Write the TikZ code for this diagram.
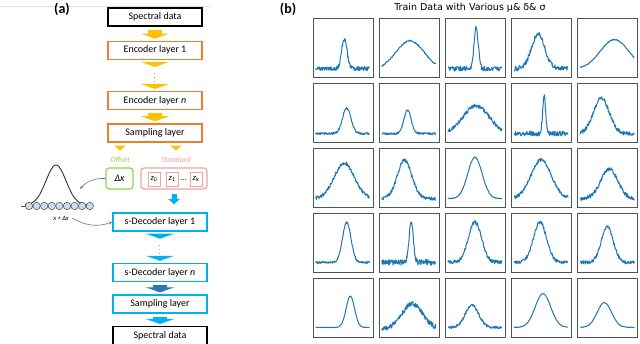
\documentclass[tikz,border=0pt]{standalone}
\usepackage{fontspec}
\setmainfont{Carlito}
\newfontfamily\plotfont{DejaVu Sans}
\usepackage{tikz}
\usetikzlibrary{positioning, arrows.meta, calc}
\definecolor{encorange}{HTML}{ED7D31}
\definecolor{arryellow}{HTML}{FFC000}
\definecolor{decblue}{HTML}{00B0F0}
\definecolor{decdark}{HTML}{2E75B6}
\definecolor{offgreen}{HTML}{92D050}
\definecolor{stdpink}{HTML}{F2A2A2}
\definecolor{specblue}{HTML}{1F77B4}
\definecolor{linkgray}{HTML}{5B7B9B}
\definecolor{beadfill}{HTML}{C9DDEE}

\begin{document}
\begin{tikzpicture}[x=1pt, y=-1pt,
  every node/.style={font=\fontsize{10}{12}\selectfont},
  layer/.style={
    rectangle, draw, line width=1.3pt,
    minimum width=94pt, minimum height=18pt, inner sep=0pt
  },
  enc/.style={layer, draw=encorange},
  dec/.style={layer, draw=decblue, line width=1.6pt},
  io/.style={layer, draw=black},
  lat/.style={
    rectangle, rounded corners=3pt, line width=1.2pt,
    minimum height=21pt, inner sep=0pt
  },
  zbox/.style={rectangle, draw=stdpink, line width=0.9pt,
    minimum width=12pt, minimum height=14pt, inner sep=0pt,
    font=\fontsize{8.5}{10}\selectfont},
  tag/.style={font=\fontsize{8}{10}\selectfont\itshape},
  dotsv/.style={inner sep=0pt, font=\fontsize{6}{7}\selectfont},
  yarr/.style={-{Triangle[width=28pt,length=5pt]}, line width=14pt,
    color=arryellow, shorten <=3pt, shorten >=2pt},
  yarrs/.style={-{Triangle[width=11pt,length=5pt]}, line width=5pt,
    color=arryellow, shorten <=4pt, shorten >=3pt},
  barr/.style={yarr, color=decblue},
  barrs/.style={yarrs, color=decblue},
  garr/.style={-{Stealth[length=3.5pt, width=3pt]}, line width=0.6pt, color=linkgray},
  panel/.style={rectangle, draw=gray!65!black, line width=0.9pt,
    minimum width=60pt, minimum height=59pt, inner sep=0pt},
  specline/.style={color=specblue, line width=1pt, line join=round},
  bead/.style={fill=beadfill, draw=gray!55!black, line width=0.5pt},
]
\useasboundingbox (0,0) rectangle (640,344);

\draw[gray!25] (0,6) -- (210,6);
\node[font=\fontsize{14}{16}\selectfont\bfseries] (lbla) at (62,9) {(a)};
\node[font=\fontsize{14}{16}\selectfont\bfseries] (lblb) at (288,9) {(b)};

% Encoder
\node[io] (spec) at (155,17) {Spectral data};
\node[enc, below=14pt of spec] (enc1) {Encoder layer 1};
\node[enc, below=31pt of enc1] (encn) {Encoder layer \textit{n}};
\node[dotsv] (edots) at ($(enc1.south)!0.5!(encn.north)$) {\vdots};
\node[enc, below=13pt of encn] (samp) {Sampling layer};

% Latent
\node[tag, text=offgreen] (offlbl) at (120,160) {Offset};
\node[tag, text=stdpink] (stdlbl) at (176,160) {Standard};
\node[lat, draw=offgreen, minimum width=27pt] (dx) at (119.5,178.5) {\itshape Δx};
\node[lat, draw=stdpink, minimum width=66pt] (std) at (174,178.5) {};
\node[zbox] (z0) at (154,179) {\textit{z}\textsubscript{0}};
\node[zbox] (z1) at (172,179) {\textit{z}\textsubscript{1}};
\node[dotsv, font=\fontsize{8}{9}\selectfont] (zdots) at (184,180) {\dots};
\node[zbox] (zk) at (196,179) {\textit{z}\textsubscript{\textit{k}}};

% Decoder
\node[dec] (sdec1) at (160,222) {s-Decoder layer 1};
\node[dec, below=31pt of sdec1] (sdecn) {s-Decoder layer \textit{n}};
\node[dotsv] (sdots) at ($(sdec1.south)!0.5!(sdecn.north)$) {\vdots};
\node[dec, below=12pt of sdecn] (samp2) {Sampling layer};
\node[io, below=12pt of samp2] (spec2) {Spectral data};

% Flow arrows
\draw[yarr] (spec) -- (enc1);
\draw[yarr, shorten >=1pt] (enc1) -- (edots);
\draw[yarr, shorten <=1pt] (edots) -- (encn);
\draw[yarr] (encn) -- (samp);
\draw[yarrs] (samp.south -| offlbl.north) -- (offlbl.north);
\draw[yarrs] (samp.south -| stdlbl.north) -- (stdlbl.north);
\draw[barrs, shorten >=8pt] (std.south) -- (std.south |- sdec1.north);
\draw[barr, shorten >=1pt] (sdec1) -- (sdots);
\draw[barr, shorten <=1pt] (sdots) -- (sdecn);
\draw[barr, color=decdark] (sdecn) -- (samp2);
\draw[barr] (samp2) -- (spec2);

% Gaussian over the grid points
\draw[line width=0.9pt, black!80] plot[domain=25:88, samples=60, smooth]
  (\x, {205-40*exp(-0.5*((\x-56)/10)^2)});
\draw[gray!60!black, line width=0.8pt] (21,206) -- (24.5,206);
\foreach \i in {0,...,8}
  \draw[bead] ({29+7.6*\i},206) circle (3.7);
\node[font=\fontsize{6.5}{8}\selectfont\itshape] (xdx) at (61,218) {x + Δx};
\coordinate (bellR) at (80,189);
\draw[garr] (dx.west) to[bend right=25] (bellR);
\draw[garr] (xdx.east) to[bend right=25] (sdec1.west);

% Train data grid
\node[font=\plotfont\fontsize{9.5}{11}\selectfont] (title) at (470,8)
  {Train Data with Various μ\& δ\& σ};
\pgfmathsetseed{11}
\foreach \col/\row/\ctr/\wid/\hgt/\nse/\bas in {
  1/1/0.53/0.045/0.50/0.035/0.15, 2/1/0.52/0.24/0.50/0.012/0.12,
  3/1/0.52/0.035/0.70/0.042/0.15, 4/1/0.45/0.11/0.58/0.042/0.15,
  5/1/0.62/0.24/0.50/0.008/0.14,
  1/2/0.57/0.07/0.43/0.018/0.15,  2/2/0.48/0.06/0.40/0.018/0.15,
  3/2/0.52/0.22/0.48/0.035/0.14,  4/2/0.55/0.025/0.65/0.042/0.15,
  5/2/0.40/0.13/0.60/0.035/0.15,
  1/3/0.53/0.17/0.60/0.03/0.15,   2/3/0.43/0.12/0.65/0.03/0.15,
  3/3/0.50/0.12/0.70/0.007/0.15,  4/3/0.50/0.17/0.65/0.03/0.15,
  5/3/0.53/0.14/0.50/0.035/0.15,
  1/4/0.57/0.07/0.68/0.018/0.17,  2/4/0.54/0.035/0.70/0.048/0.17,
  3/4/0.50/0.11/0.68/0.035/0.17,  4/4/0.48/0.11/0.68/0.03/0.17,
  5/4/0.50/0.10/0.60/0.03/0.17,
  1/5/0.63/0.07/0.53/0.004/0.17,  2/5/0.56/0.17/0.42/0.042/0.15,
  3/5/0.45/0.11/0.38/0.022/0.17,  4/5/0.53/0.13/0.57/0.004/0.17,
  5/5/0.45/0.12/0.42/0.005/0.17}{
  \node[panel] (p\row\col) at ({343+66.2*(\col-1)}, {47.5+65*(\row-1)}) {};
  \begin{scope}[shift={(p\row\col.south west)}, x=60pt, y=59pt]
    \draw[specline] plot[domain=0.05:0.95, samples=150]
      (\x, {\bas+\hgt*exp(-min(30, 0.5*((\x-\ctr)/\wid)^2))+\nse*rand});
  \end{scope}
}

\end{tikzpicture}
\end{document}
